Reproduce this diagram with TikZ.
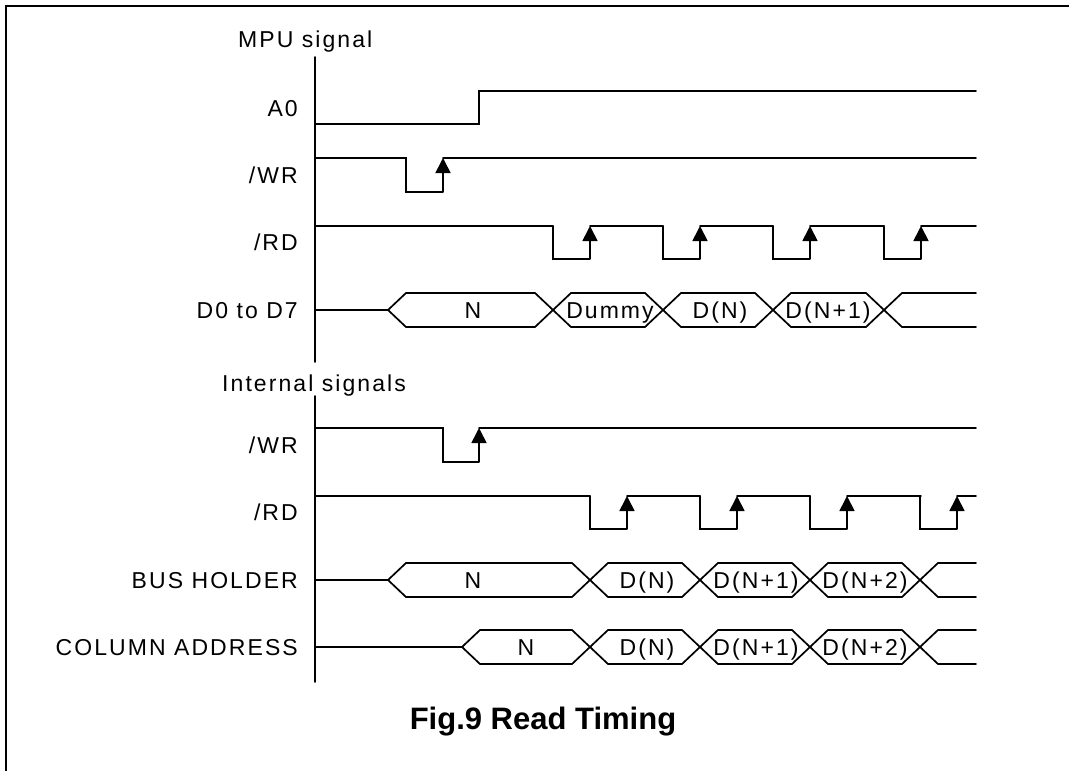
\documentclass[tikz,border=0pt]{standalone}
\usepackage{fontspec}
\setmainfont{Liberation Sans}[LetterSpace=9]
\newfontfamily\capfont{Liberation Sans}
\usetikzlibrary{arrows.meta}
\tikzset{
  sig/.style={line width=1.7pt, line cap=round, line join=miter},
  rise/.style={line width=1.7pt, -{Triangle[length=15pt,width=15pt]}},
  frame/.style={line width=2.2pt},
  txt/.style={inner sep=0pt, text height=16.5pt, text depth=0pt, font=\fontsize{23}{23}\selectfont},
  lbl/.style={txt, anchor=east},
  hdr/.style={txt, anchor=west},
  busl/.style={txt, anchor=center},
  figcap/.style={inner sep=0pt, text height=22pt, text depth=0pt, font=\capfont\bfseries\fontsize{31}{31}\selectfont}
}
\newcommand\pulses[3]{%
  \foreach \f/\n in {#3} {
    \draw[sig] (\f,#1) -- (\f,#2) -- (\f+37,#2);
    \draw[rise] (\f+37,#2) -- (\f+37,#1);
    \draw[sig] (\f+37,#1) -- (\n,#1);
  }}
\newcommand\busrow[4]{%
  \draw[sig] (315,#1) -- (#2,#1) -- (#2+18,#1-17);
  \draw[sig] (#2,#1) -- (#2+18,#1+17);
  \foreach \c [remember=\c as \p (initially #2)] in {#3} {
    \draw[sig] (\p+18,#1-17) -- (\c-18,#1-17);
    \draw[sig] (\p+18,#1+17) -- (\c-18,#1+17);
    \draw[sig] (\c-18,#1-17) -- (\c+18,#1+17);
    \draw[sig] (\c-18,#1+17) -- (\c+18,#1-17);
  }
  \draw[sig] (#4+18,#1-17) -- (976,#1-17);
  \draw[sig] (#4+18,#1+17) -- (976,#1+17);}
\begin{document}
\begin{tikzpicture}[x=1pt,y=-1pt]
\useasboundingbox (0,0) rectangle (1069,771);
% frame
\draw[frame] (6,771) -- (6,6) -- (1069,6);
% axes
\draw[sig] (315,57) -- (315,362);
\draw[sig] (315,396) -- (315,682);
% headers
\node[hdr] (mpu) at (238,39) {MPU signal};
\node[hdr] (intl) at (222,383) {Internal signals};
% labels
\node[lbl] (lA0) at (298,108) {A0};
\node[lbl] (lwr1) at (298,175) {/WR};
\node[lbl] (lrd1) at (298,242) {/RD};
\node[lbl] (ld) at (298,310) {D0 to D7};
\node[lbl] (lwr2) at (298,445) {/WR};
\node[lbl] (lrd2) at (298,512) {/RD};
\node[lbl] (lbus) at (298,580) {BUS HOLDER};
\node[lbl] (lcol) at (298,647) {COLUMN ADDRESS};
% A0
\draw[sig] (315,124) -- (479,124) -- (479,91) -- (976,91);
% MPU /WR
\draw[sig] (315,158) -- (406,158) -- (406,192) -- (443,192);
\draw[rise] (443,192) -- (443,158);
\draw[sig] (443,158) -- (976,158);
% MPU /RD
\draw[sig] (315,226) -- (553,226);
\pulses{226}{259}{553/663,663/773,773/884,884/976}
% D0 to D7
\busrow{310}{388}{553,663,773,884}{884}
\node[busl] (d1) at (473,310) {N};
\node[busl] (d2) at (610,310) {Dummy};
\node[busl] (d3) at (720,310) {D(N)};
\node[busl] (d4) at (828,310) {D(N+1)};
% internal /WR
\draw[sig] (315,428) -- (443,428) -- (443,462) -- (479,462);
\draw[rise] (479,462) -- (479,428);
\draw[sig] (479,428) -- (976,428);
% internal /RD
\draw[sig] (315,496) -- (590,496);
\pulses{496}{529}{590/700,700/810,810/921,920/976}
% BUS HOLDER
\busrow{580}{388}{590,700,810,920}{920}
\node[busl] (b1) at (473,580) {N};
\node[busl] (b2) at (647,580) {D(N)};
\node[busl] (b3) at (756,580) {D(N+1)};
\node[busl] (b4) at (865,580) {D(N+2)};
% COLUMN ADDRESS
\busrow{647}{462}{590,700,810,920}{920}
\node[busl] (c1) at (526,647) {N};
\node[busl] (c2) at (647,647) {D(N)};
\node[busl] (c3) at (756,647) {D(N+1)};
\node[busl] (c4) at (865,647) {D(N+2)};
% caption
\node[figcap] (caption) at (543,718) {Fig.9 Read Timing};
\end{tikzpicture}
\end{document}
